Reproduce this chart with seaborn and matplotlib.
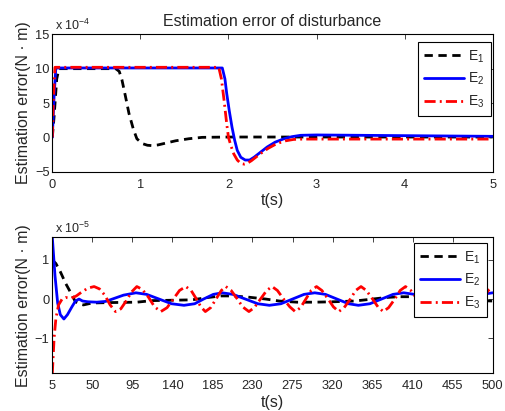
import pandas as pd
import matplotlib
matplotlib.use("Agg")
import matplotlib.pyplot as plt
import seaborn as sns

# ---------- data (top panel, units of 1e-4 N·m) ----------
t1_E1 = [0, 0.02, 0.05, 0.075, 0.3, 0.72, 0.76, 0.79, 0.83, 0.87, 0.92, 0.96, 1.02, 1.08, 1.13, 1.2, 1.3, 1.4, 1.55, 1.7, 2.0, 3.0, 4.0, 5.0]
v1_E1 = [0, 3.0, 8.5, 10.0, 10.0, 10.0, 9.6, 8.4, 6.0, 3.5, 1.2, -0.2, -0.9, -1.15, -1.2, -1.1, -0.8, -0.5, -0.2, 0.0, 0.05, 0.05, 0.05, 0.05]

t1_E2 = [0, 0.02, 0.04, 0.5, 1.0, 1.5, 1.93, 1.96, 1.98, 2.01, 2.04, 2.07, 2.10, 2.14, 2.19, 2.24, 2.29, 2.36, 2.44, 2.53, 2.63, 2.72, 2.82, 3.0, 3.5, 4.0, 4.5, 5.0]
v1_E2 = [0, 6.0, 10.1, 10.1, 10.1, 10.1, 10.1, 8.5, 6.4, 3.8, 1.5, -0.4, -1.9, -2.9, -3.3, -3.3, -2.9, -2.2, -1.4, -0.7, -0.2, 0.1, 0.3, 0.35, 0.3, 0.25, 0.2, 0.15]

t1_E3 = [0, 0.01, 0.03, 0.5, 1.0, 1.5, 1.89, 1.92, 1.95, 1.98, 2.0, 2.03, 2.06, 2.10, 2.14, 2.18, 2.21, 2.26, 2.31, 2.36, 2.45, 2.55, 2.65, 2.74, 2.85, 3.0, 4.0, 5.0]
v1_E3 = [0, 5.0, 10.2, 10.2, 10.2, 10.2, 10.2, 8.5, 5.4, 2.0, 0.0, -1.3, -2.4, -3.3, -3.8, -3.9, -3.8, -3.4, -2.9, -2.4, -1.6, -0.9, -0.5, -0.3, -0.25, -0.25, -0.25, -0.25]

# ---------- data (bottom panel, units of 1e-5 N·m) ----------
t2_E1 = [5, 9, 14, 20, 26, 31, 36, 40, 50, 70, 100, 117, 140, 162, 180, 195, 207, 225, 245, 260, 280, 300, 320, 345, 365, 380, 395, 410, 430, 450, 470, 500]
v2_E1 = [1.0, 0.91, 0.7, 0.4, 0.15, -0.07, -0.13, -0.15, -0.1, -0.09, -0.08, -0.04, -0.03, -0.02, 0.04, 0.08, 0.08, 0.05, 0.0, -0.05, -0.08, -0.08, -0.07, -0.05, 0.0, 0.04, 0.06, 0.06, 0.03, 0.0, -0.03, -0.05]

t2_E2 = [5, 8, 11, 14, 18, 22, 27, 31, 35, 39, 45, 55, 65, 75, 85, 99, 111, 125, 139, 153, 165, 175, 186, 196, 208, 222, 236, 249, 262, 275, 288, 300, 312, 325, 338, 349, 362, 375, 388, 400, 412, 425, 438, 450, 462, 475, 488, 500]
v2_E2 = [1.58, 0.6, -0.1, -0.4, -0.51, -0.4, -0.2, -0.05, 0.0, -0.05, -0.07, -0.08, -0.06, 0.02, 0.1, 0.16, 0.12, 0.0, -0.12, -0.16, -0.12, 0.0, 0.12, 0.16, 0.12, 0.0, -0.12, -0.16, -0.12, 0.0, 0.12, 0.16, 0.12, 0.0, -0.12, -0.16, -0.12, 0.0, 0.12, 0.16, 0.12, 0.0, -0.12, -0.16, -0.12, 0.0, 0.12, 0.16]

t2_E3 = [5, 7, 9, 12, 16, 20, 26, 32, 38, 45, 52, 58, 64, 70, 76, 82, 88, 94, 100, 106, 113, 120, 127, 134, 141, 148, 155, 161, 167, 172, 177, 183, 189, 195, 200, 206, 213, 219, 226, 232, 239, 246, 252, 258, 265, 272, 278, 284, 290, 296, 302, 308, 315, 321, 327, 333, 340, 346, 352, 358, 365, 371, 377, 383, 390, 396, 402, 408, 415, 421, 427, 433, 440, 446, 452, 458, 465, 471, 477, 483, 489, 495, 500]
v2_E3 = [-1.9, -1.0, -0.5, -0.15, 0.0, 0.04, 0.02, 0.08, 0.18, 0.28, 0.32, 0.26, 0.1, -0.15, -0.32, -0.25, -0.05, 0.18, 0.32, 0.25, 0.05, -0.2, -0.32, -0.22, 0.0, 0.22, 0.32, 0.22, 0.0, -0.2, -0.32, -0.22, 0.0, 0.22, 0.32, 0.22, 0.0, -0.2, -0.32, -0.22, 0.0, 0.22, 0.32, 0.22, 0.0, -0.2, -0.32, -0.22, 0.0, 0.22, 0.32, 0.22, 0.0, -0.2, -0.32, -0.22, 0.0, 0.22, 0.32, 0.22, 0.0, -0.2, -0.32, -0.22, 0.0, 0.22, 0.32, 0.22, 0.0, -0.2, -0.32, -0.22, 0.0, 0.22, 0.32, 0.22, 0.0, -0.2, -0.32, -0.22, 0.0, 0.22, 0.3]

series_labels = [r"E$_1$", r"E$_2$", r"E$_3$"]
top_xticks = [0, 1, 2, 3, 4, 5]
top_yticks = [-5, 0, 5, 10, 15]
bot_xticks = [5, 50, 95, 140, 185, 230, 275, 320, 365, 410, 455, 500]
bot_yticks = [-1, 0, 1]

# ---------- style ----------
sns.set_style("white")
plt.rcParams["font.family"] = ["Liberation Sans", "DejaVu Sans"]
plt.rcParams["mathtext.fontset"] = "custom"
plt.rcParams["mathtext.rm"] = "Liberation Sans"
plt.rcParams["mathtext.it"] = "Liberation Sans"

fig = plt.figure(figsize=(5.05, 4.11), dpi=100)
ax1 = fig.add_axes([0.1036, 0.5822, 0.872, 0.3343])
ax2 = fig.add_axes([0.1036, 0.0917, 0.872, 0.3309])

styles = [
    dict(color="black", linestyle=(0, (3.0, 2.0)), lw=2.0),
    dict(color="#0000ff", linestyle="-", lw=2.0),
    dict(color="#ff0000", linestyle=(0, (4.0, 1.5, 0.7, 1.5)), lw=2.0),
]

top = [(t1_E1, v1_E1), (t1_E2, v1_E2), (t1_E3, v1_E3)]
bot = [(t2_E1, v2_E1), (t2_E2, v2_E2), (t2_E3, v2_E3)]

for ax, data in [(ax1, top), (ax2, bot)]:
    for (tx, vy), lab, st in zip(data, series_labels, styles):
        df = pd.DataFrame({"t": tx, "v": vy})
        sns.lineplot(data=df, x="t", y="v", ax=ax, label=lab, sort=False, **st)

ax1.set_xlim(0, 5)
ax1.set_ylim(-5, 15)
ax1.set_xticks(top_xticks)
ax1.set_yticks(top_yticks)
ax2.set_xlim(5, 500)
ax2.set_ylim(-1.9, 1.58)
ax2.set_xticks(bot_xticks)
ax2.set_yticks(bot_yticks)

legend_anchor = {ax1: (0.9962, 0.944), ax2: (0.987, 0.958)}

for ax, exp in [(ax1, "-4"), (ax2, "-5")]:
    ax.tick_params(direction="in", top=True, right=True, length=3.5, width=0.6,
                   labelsize=9.3)
    ax.tick_params(axis="x", pad=5)
    ax.tick_params(axis="y", pad=2)
    for sp in ax.spines.values():
        sp.set_visible(True)
        sp.set_color("black")
        sp.set_linewidth(0.8)
    ax.set_xlabel("t(s)", fontsize=11.5, labelpad=2)
    ax.set_ylabel("Estimation error(N \u00b7 m)", fontsize=11.5, labelpad=3)
    ax.text(0.005, 1.012, r"x 10$^{%s}$" % exp, transform=ax.transAxes,
            fontsize=9, ha="left", va="bottom")
    leg = ax.legend(loc="upper right", bbox_to_anchor=legend_anchor[ax],
                    borderaxespad=0.0, fontsize=10, handlelength=2.9,
                    frameon=True, fancybox=False,
                    labelspacing=0.45, handletextpad=0.3, borderpad=0.45)
    leg.get_frame().set_edgecolor("black")
    leg.get_frame().set_linewidth(0.8)
    leg.get_frame().set_alpha(1)

ax1.set_title("Estimation error of disturbance", fontsize=11.5, pad=6)

fig.savefig("out.png", dpi=100)
